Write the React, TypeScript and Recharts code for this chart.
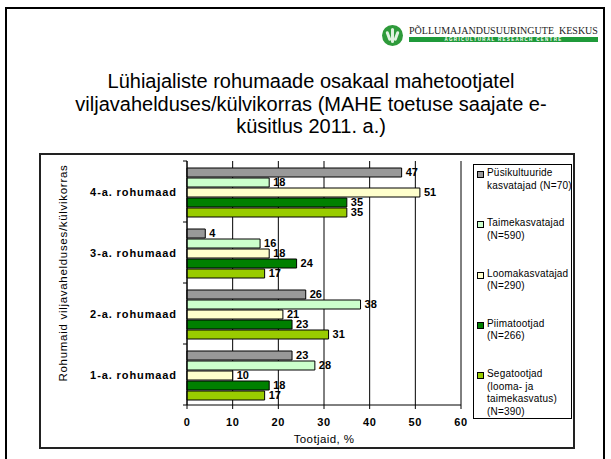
import { BarChart, Bar, XAxis, YAxis, CartesianGrid, LabelList } from 'recharts';

// rohumaa vanus (ülevalt alla)
const categories = ['4-a. rohumaad', '3-a. rohumaad', '2-a. rohumaad', '1-a. rohumaad'];

// tootjate osakaal, %
const pysikultuurid = [47, 4, 26, 23];
const taimekasvatajad = [18, 16, 38, 28];
const loomakasvatajad = [51, 18, 21, 10];
const piimatootjad = [35, 24, 23, 18];
const segatootjad = [35, 17, 31, 17];

const xTicks = [0, 10, 20, 30, 40, 50, 60];

const series = [
  { key: 'pys', lines: ['Püsikultuuride', 'kasvatajad (N=70)'], values: pysikultuurid, color: '#999999' },
  { key: 'taim', lines: ['Taimekasvatajad', '(N=590)'], values: taimekasvatajad, color: '#ccffcc' },
  { key: 'loom', lines: ['Loomakasvatajad', '(N=290)'], values: loomakasvatajad, color: '#ffffcc' },
  { key: 'piim', lines: ['Piimatootjad', '(N=266)'], values: piimatootjad, color: '#008000' },
  { key: 'sega', lines: ['Segatootjad', '(looma- ja', 'taimekasvatus)', '(N=390)'], values: segatootjad, color: '#99cc00' },
];

const data = categories.map((cat, i) => {
  const row: Record<string, string | number> = { cat };
  series.forEach(s => { row[s.key] = s.values[i]; });
  return row;
});

const FONT = '"Liberation Sans", Arial, sans-serif';

const CategoryTick = (props: any) => {
  const { x, y, payload, index } = props;
  const half = payload?.offset ?? 30.5;
  const axisX = x + 10;
  const last = index === categories.length - 1;
  return (
    <g>
      <text x={x} y={y} dy={4} textAnchor="end" fontSize={11} fontWeight="bold" fill="#000" letterSpacing={0.9} fontFamily={FONT}>
        {payload.value}
      </text>
      <line x1={axisX - 4} x2={axisX} y1={y - half} y2={y - half} stroke="#000" />
      {last && <line x1={axisX - 4} x2={axisX} y1={y + half} y2={y + half} stroke="#000" />}
    </g>
  );
};

const LegendBox = () => (
  <div style={{ position: 'absolute', left: 473, top: 164, border: '1px solid #000', width: 99, height: 255, boxSizing: 'border-box', background: '#fff', paddingTop: 2 }}>
    {series.map(s => (
      <div key={s.key} style={{ position: 'relative', height: 50.3 }}>
        <span style={{ position: 'absolute', left: 3, top: 4, width: 5, height: 5, background: s.color, border: '1px solid #000' }} />
        <div style={{ position: 'absolute', left: 13, top: 0, fontSize: 10, lineHeight: '12.6px', color: '#000', whiteSpace: 'nowrap', letterSpacing: 0.2 }}>
          {s.lines.map(l => <div key={l}>{l}</div>)}
        </div>
      </div>
    ))}
  </div>
);

export default function App() {
  return (
    <div style={{ position: 'absolute', left: 0, top: 0, width: 611, height: 459, background: '#fff', fontFamily: FONT, overflow: 'hidden' }}>
      {/* slaidi raam */}
      <div style={{ position: 'absolute', left: 5, top: 7, width: 600, height: 470, border: '2px solid #000', boxSizing: 'border-box' }} />

      {/* logo */}
      <div style={{ position: 'absolute', left: 382, top: 25, width: 21, height: 21, borderRadius: '50%', background: '#2e9a3a', overflow: 'hidden' }}>
        <div style={{ position: 'absolute', left: 9, top: 3, width: 3, height: 15, borderRadius: 2, background: '#dff2df' }} />
        <div style={{ position: 'absolute', left: 5, top: 6, width: 3, height: 10, borderRadius: 2, background: '#dff2df', transform: 'rotate(-20deg)' }} />
        <div style={{ position: 'absolute', left: 13, top: 6, width: 3, height: 10, borderRadius: 2, background: '#dff2df', transform: 'rotate(20deg)' }} />
      </div>
      <div style={{ position: 'absolute', left: 409, top: 25, fontFamily: '"Liberation Serif", serif', fontSize: 10, color: '#222', whiteSpace: 'nowrap', lineHeight: '12px' }}>
        PÕLLUMAJANDUSUURINGUTE&nbsp;&nbsp;KESKUS
      </div>
      <div style={{ position: 'absolute', left: 409, top: 37, width: 189, height: 5, background: '#1f9a3a', color: '#fff', fontSize: 4.5, lineHeight: '5px', textAlign: 'center', letterSpacing: 1.3, fontWeight: 'bold', whiteSpace: 'nowrap', overflow: 'hidden' }}>
        AGRICULTURAL RESEARCH CENTRE
      </div>

      {/* pealkiri */}
      <div style={{ position: 'absolute', left: 11, width: 600, top: 70, textAlign: 'center', fontSize: 20, lineHeight: '22.5px', color: '#000' }}>
        <div>Lühiajaliste rohumaade osakaal mahetootjatel</div>
        <div>viljavahelduses/külvikorras (MAHE toetuse saajate e-</div>
        <div>küsitlus 2011. a.)</div>
      </div>

      {/* diagrammi raam */}
      <div style={{ position: 'absolute', left: 39, top: 153, width: 536, height: 296, border: '2px solid #222', boxSizing: 'border-box' }} />

      <div style={{ position: 'absolute', left: 0, top: 0 }}>
        <BarChart
          width={611}
          height={459}
          data={data}
          layout="vertical"
          margin={{ top: 161, right: 150, bottom: 14, left: 39 }}
          barCategoryGap="11.5%"
          barGap={1}
        >
          <CartesianGrid horizontal={false} stroke="#000" />
          <XAxis
            type="number"
            domain={[0, 60]}
            ticks={xTicks}
            height={40}
            tickSize={4}
            tickMargin={9}
            axisLine={{ stroke: '#000' }}
            tickLine={{ stroke: '#000' }}
            tick={{ fontSize: 11, fontWeight: 'bold', fill: '#000', fontFamily: FONT, letterSpacing: 0.6 }}
            label={{ value: 'Tootjaid, %', position: 'insideBottom', offset: 2, fontSize: 11.5, fill: '#000', fontFamily: FONT, letterSpacing: 0.4 }}
          />
          <YAxis
            type="category"
            dataKey="cat"
            width={148}
            tickLine={false}
            tickSize={0}
            tickMargin={10}
            axisLine={{ stroke: '#000' }}
            tick={<CategoryTick />}
          />
          {series.map(s => (
            <Bar key={s.key} dataKey={s.key} fill={s.color} stroke="#000" strokeWidth={1} isAnimationActive={false}>
              <LabelList dataKey={s.key} position="right" offset={4} fontSize={11} fontWeight="bold" fill="#000" fontFamily={FONT} />
            </Bar>
          ))}
        </BarChart>
      </div>

      <LegendBox />

      {/* y-telje pealkiri */}
      <div style={{ position: 'absolute', left: 63, top: 273, transform: 'translate(-50%, -50%) rotate(-90deg)', fontSize: 11.5, whiteSpace: 'nowrap', color: '#000', letterSpacing: 0.7 }}>
        Rohumaid viljavahelduses/külvikorras
      </div>
    </div>
  );
}
